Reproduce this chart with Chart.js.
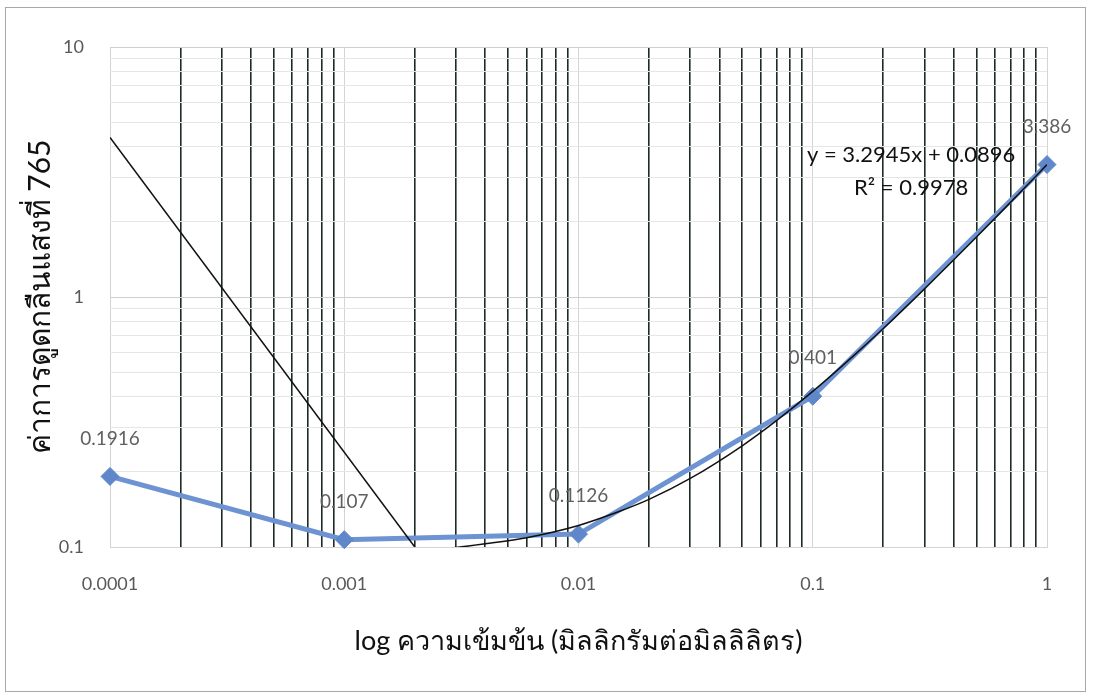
<!DOCTYPE html>
<html>
<head>
<meta charset="utf-8">
<script src="https://cdn.jsdelivr.net/npm/chart.js@4.4.1/dist/chart.umd.min.js"></script>
<style>
  html, body { margin: 0; padding: 0; background: #fff; }
  #wrap { position: relative; width: 1096px; height: 697px; }
  #frame { position: absolute; left: 5px; top: 7px; width: 1079px; height: 683px; border: 1px solid #a8a8a8; }
  canvas { position: absolute; left: 0; top: 0; }
</style>
</head>
<body>
<div id="wrap">
  <div id="frame"></div>
  <canvas id="absChart" width="1096" height="697"></canvas>
</div>
<script>
// concentrations (mg/ml) and absorbance at 765
const concentrations = [0.0001, 0.001, 0.01, 0.1, 1];
const absorbance = [0.1916, 0.107, 0.1126, 0.401, 3.386];
const pointLabels = ['0.1916', '0.107', '0.1126', '0.401', '3.386'];

// trendline
const trendX = [0.0025, 0.003, 0.004, 0.006, 0.01, 0.015, 0.02, 0.03, 0.05, 0.07, 0.1, 0.15, 0.2, 0.3, 0.5, 0.7, 1];
const trendY = [0.098, 0.0995, 0.103, 0.109, 0.122, 0.139, 0.155, 0.188, 0.254, 0.32, 0.419, 0.584, 0.748, 1.078, 1.737, 2.396, 3.384];
// stray straight segment on the left
const strayX = [0.0001, 0.002];
const strayY = [4.35, 0.1];

const xDecades = [0.0001, 0.001, 0.01, 0.1, 1];
const xTickLabels = ['0.0001', '0.001', '0.01', '0.1', '1'];
const yDecades = [0.1, 1, 10];
const yTickLabels = ['0.1', '1', '10'];

const equationText = 'y = 3.2945x + 0.0896';
const r2Text = 'R² = 0.9978';

const xTitle = 'log ความเข้มข้น (มิลลิกรัมต่อมิลลิลิตร)';
const yTitle = 'ค่าการดูดกลืนแสงที่ 765';

const blue = '#5f87c9';
const fontFamily = 'Lato, "Noto Sans", sans-serif';

function logTicks(decades) {
    const out = [];
    decades.forEach(function(d, i) {
        if (i === decades.length - 1) { out.push(d); return; }
        for (let m = 1; m <= 9; m++) out.push(+(d * m).toPrecision(6));
    });
    return out;
}
function isDecade(v) {
    const l = Math.log10(v);
    return Math.abs(l - Math.round(l)) < 1e-6;
}

const xTickValues = logTicks(xDecades);
const yTickValues = logTicks(yDecades);

const labelPlugin = {
    id: 'labels',
    afterDatasetsDraw(chart) {
        const ctx = chart.ctx;
        const meta = chart.getDatasetMeta(2);
        ctx.save();
        ctx.font = '19px ' + fontFamily;
        ctx.fillStyle = '#606060';
        ctx.textAlign = 'center';
        ctx.textBaseline = 'middle';
        meta.data.forEach(function(pt, i) {
            ctx.fillText(pointLabels[i], pt.x, pt.y - 38);
        });
        const a = chart.chartArea;
        ctx.font = '22px ' + fontFamily;
        ctx.fillStyle = '#111';
        const cx = a.left + (a.right - a.left) * 0.855;
        ctx.fillText(equationText, cx, a.top + 108);
        ctx.fillText(r2Text, cx, a.top + 141);
        ctx.restore();
    }
};

const ctx = document.getElementById('absChart').getContext('2d');
new Chart(ctx, {
    type: 'line',
    data: {
        datasets: [{
            label: 'stray',
            data: strayX.map(function(x, i) { return { x: x, y: strayY[i] }; }),
            borderColor: '#111',
            borderWidth: 1.5,
            pointRadius: 0
        }, {
            label: 'trend',
            data: trendX.map(function(x, i) { return { x: x, y: trendY[i] }; }),
            borderColor: '#111',
            borderWidth: 1.5,
            pointRadius: 0,
            cubicInterpolationMode: 'monotone'
        }, {
            label: 'absorbance',
            data: concentrations.map(function(x, i) { return { x: x, y: absorbance[i] }; }),
            borderColor: '#6d93d2',
            borderWidth: 5,
            pointStyle: 'rectRot',
            pointRadius: 9,
            pointBackgroundColor: blue,
            pointBorderColor: blue,
            pointBorderWidth: 1,
            clip: false
        }]
    },
    options: {
        responsive: false,
        animation: false,
        layout: { padding: { left: 22, right: 49, top: 47, bottom: 10 } },
        plugins: {
            legend: { display: false },
            tooltip: { enabled: false }
        },
        scales: {
            x: {
                type: 'logarithmic',
                min: 0.0001,
                max: 1,
                afterBuildTicks: function(scale) {
                    scale.ticks = xTickValues.map(function(v) { return { value: v }; });
                },
                afterFit: function(scale) { scale.height = 140; },
                ticks: {
                    autoSkip: false,
                    maxRotation: 0,
                    padding: 26,
                    color: '#595959',
                    font: { size: 18, family: fontFamily },
                    callback: function(value) {
                        const i = xDecades.findIndex(function(d) { return Math.abs(d - value) / d < 1e-6; });
                        return i >= 0 ? xTickLabels[i] : '';
                    }
                },
                grid: {
                    drawTicks: false,
                    color: function(c) { return isDecade(c.tick.value) ? '#d4d4d4' : '#1e2b24'; },
                    lineWidth: function(c) { return isDecade(c.tick.value) ? 1 : 1.6; }
                },
                border: { color: '#d4d4d4' },
                title: {
                    display: true,
                    text: xTitle,
                    color: '#111',
                    font: { size: 27, family: fontFamily },
                    padding: { top: 20, bottom: 30 }
                }
            },
            y: {
                type: 'logarithmic',
                min: 0.1,
                max: 10,
                afterBuildTicks: function(scale) {
                    scale.ticks = yTickValues.map(function(v) { return { value: v }; });
                },
                afterFit: function(scale) { scale.width = 88; },
                ticks: {
                    autoSkip: false,
                    padding: 26,
                    color: '#595959',
                    font: { size: 18, family: fontFamily },
                    callback: function(value) {
                        const i = yDecades.findIndex(function(d) { return Math.abs(d - value) / d < 1e-6; });
                        return i >= 0 ? yTickLabels[i] : '';
                    }
                },
                grid: {
                    drawTicks: false,
                    color: function(c) { return isDecade(c.tick.value) ? '#cfcfcf' : '#e6e6e6'; },
                    lineWidth: 1
                },
                border: { display: false },
                title: {
                    display: true,
                    text: yTitle,
                    color: '#111',
                    font: { size: 30, family: fontFamily },
                    padding: { top: 0, bottom: 0 }
                }
            }
        }
    },
    plugins: [labelPlugin]
});
</script>
</body>
</html>
